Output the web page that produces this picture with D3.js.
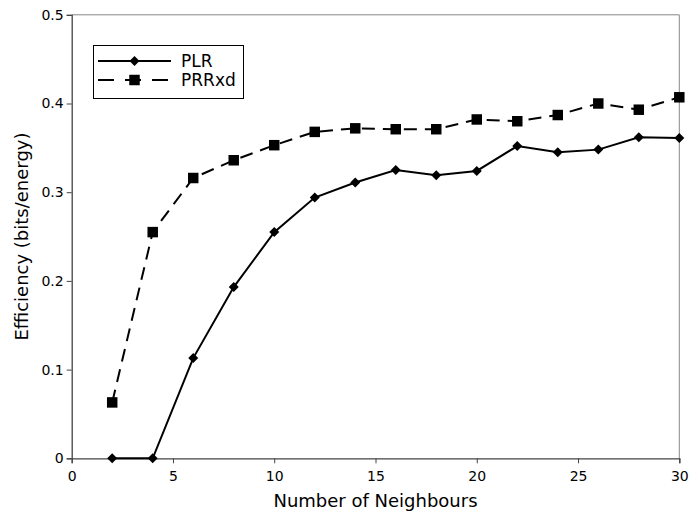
<!DOCTYPE html>
<html><head><meta charset="utf-8">
<script src="https://cdn.jsdelivr.net/npm/d3@7"></script>
<style>body{margin:0;background:#fff}svg{display:block;font-family:"DejaVu Sans",sans-serif}</style>
</head><body><svg id="c" width="691" height="517"></svg>
<script>
const xs = [2,4,6,8,10,12,14,16,18,20,22,24,26,28,30];
const plr = [0,0,0.113,0.193,0.255,0.294,0.311,0.325,0.319,0.324,0.352,0.345,0.348,0.362,0.361];
const prrxd = [0.063,0.255,0.316,0.336,0.353,0.368,0.372,0.371,0.371,0.382,0.380,0.387,0.400,0.393,0.407];
const xTicks = [0,5,10,15,20,25,30];
const yTicks = [0,0.1,0.2,0.3,0.4,0.5];
const seriesNames = ["PLR","PRRxd"];

const svg = d3.select("#c");
const L=71.7, R=679.3, T=14.8, B=458.3;
const x = d3.scaleLinear().domain([0,30]).range([L,R]);
const y = d3.scaleLinear().domain([0,0.5]).range([B,T]);

svg.append("line").attr("x1",L).attr("x2",R).attr("y1",T).attr("y2",T).attr("stroke","#888").attr("stroke-width",1);
svg.append("line").attr("x1",R).attr("x2",R).attr("y1",T).attr("y2",B).attr("stroke","#888").attr("stroke-width",1);

const xa = svg.append("g").attr("transform",`translate(0,${B})`)
  .call(d3.axisBottom(x).tickValues(xTicks).tickFormat(d3.format("d")).tickSizeOuter(0).tickSize(5));
const ya = svg.append("g").attr("transform",`translate(${L},0)`)
  .call(d3.axisLeft(y).tickValues(yTicks).tickFormat(d=>d===0?"0":d3.format(".1f")(d)).tickSizeOuter(0).tickSize(5));
[xa,ya].forEach(a=>{
  a.selectAll("path").attr("stroke","#444").attr("stroke-width",1.3);
  a.selectAll("line").attr("stroke","#444");
  a.selectAll("text").attr("font-size",14).attr("fill","#000").attr("font-family","DejaVu Sans");
});
xa.selectAll("text").attr("dy","1.05em");

svg.append("text").attr("x",(L+R)/2).attr("y",507).attr("text-anchor","middle").attr("font-size",18).text("Number of Neighbours");
svg.append("text").attr("transform",`translate(28,${(T+B)/2}) rotate(-90)`).attr("text-anchor","middle").attr("font-size",18).text("Efficiency (bits/energy)");

const line = d3.line().x((d,i)=>x(xs[i])).y(d=>y(d));
svg.append("path").datum(prrxd).attr("d",line).attr("fill","none").attr("stroke","#000").attr("stroke-width",2).attr("stroke-dasharray","13,8");
svg.append("path").datum(plr).attr("d",line).attr("fill","none").attr("stroke","#000").attr("stroke-width",2);

const sq = d3.symbol().type(d3.symbolSquare).size(110);
const diaShape = {draw(ctx,size){const r=Math.sqrt(size/2);ctx.moveTo(0,-r);ctx.lineTo(r,0);ctx.lineTo(0,r);ctx.lineTo(-r,0);ctx.closePath();}};
const dia = d3.symbol().type(diaShape).size(50);
svg.selectAll(".sq").data(prrxd).enter().append("path").attr("d",sq).attr("transform",(d,i)=>`translate(${x(xs[i])},${y(d)})`);
svg.selectAll(".di").data(plr).enter().append("path").attr("d",dia).attr("transform",(d,i)=>`translate(${x(xs[i])},${y(d)})`);

const lg = svg.append("g");
lg.append("rect").attr("x",93.5).attr("y",45.5).attr("width",150).attr("height",53).attr("fill","#fff").attr("stroke","#000").attr("stroke-width",1);
const ly = [61,80];
lg.append("line").attr("x1",98).attr("x2",171).attr("y1",ly[0]).attr("y2",ly[0]).attr("stroke","#000").attr("stroke-width",2);
lg.append("path").attr("d",dia).attr("transform",`translate(134.5,${ly[0]})`);
lg.append("line").attr("x1",98).attr("x2",171).attr("y1",ly[1]).attr("y2",ly[1]).attr("stroke","#000").attr("stroke-width",2).attr("stroke-dasharray","16,11");
lg.append("path").attr("d",sq).attr("transform",`translate(134.5,${ly[1]})`);
seriesNames.forEach((n,i)=>lg.append("text").attr("x",181).attr("y",ly[i]+6).attr("font-size",17).text(n));
</script></body></html>
